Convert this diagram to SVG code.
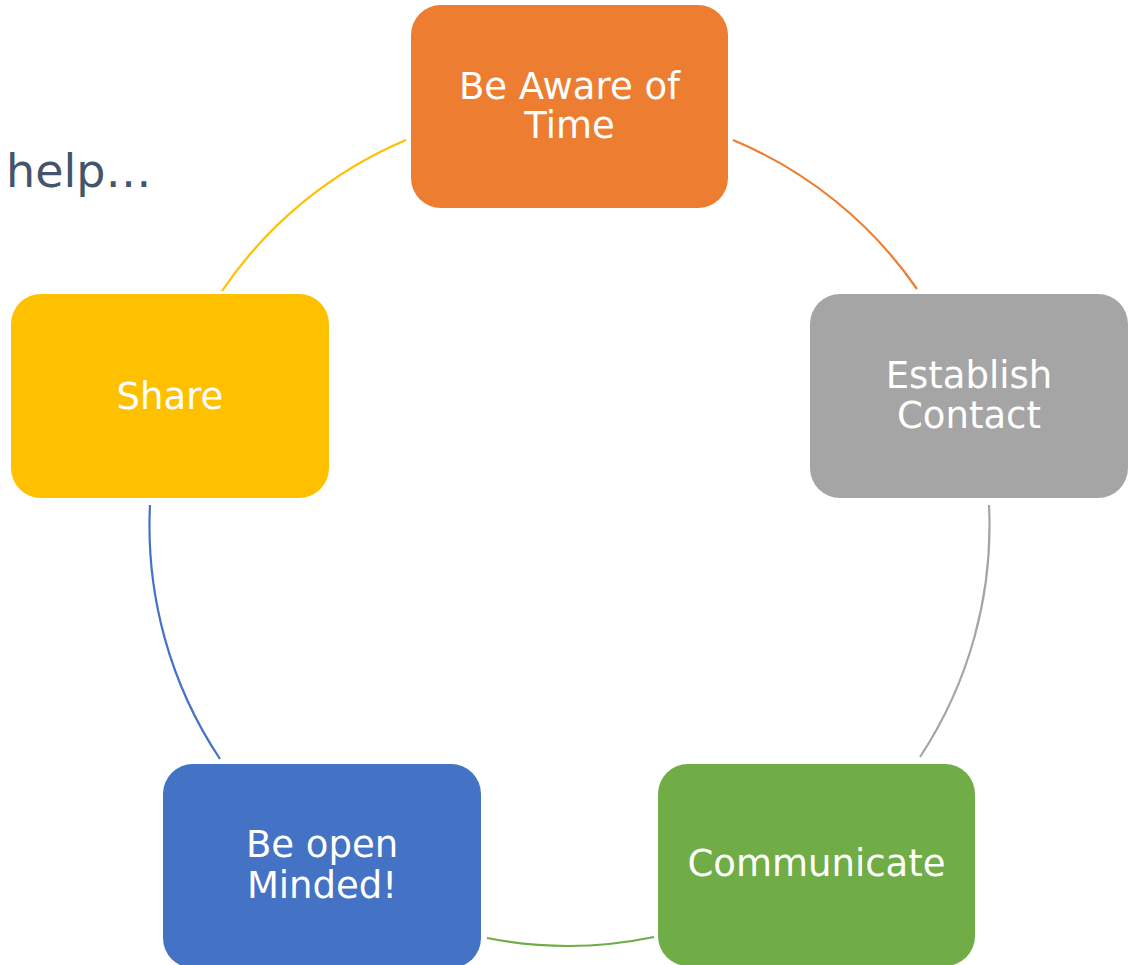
<svg xmlns="http://www.w3.org/2000/svg" width="1134" height="965" viewBox="0 0 1134 965">
<style>
.lbl{font-family:"DejaVu Sans","Liberation Sans",sans-serif;font-size:37px;fill:#FFFFFF;text-anchor:middle}
.arc{fill:none;stroke-width:2.2}
.help{font-family:"DejaVu Sans","Liberation Sans",sans-serif;font-size:46px;fill:#44546A}
</style>
<rect width="1134" height="965" fill="#FFFFFF"/>
<text class="help" x="6" y="187">help…</text>
<g id="connectors">
<path class="arc" stroke="#ED7D31" d="M733,140 A420,420 0 0,1 917,289"/>
<path class="arc" stroke="#A5A5A5" d="M989,505 A420,420 0 0,1 920,757"/>
<path class="arc" stroke="#70AD47" d="M654,937 A420,420 0 0,1 487,938"/>
<path class="arc" stroke="#4472C4" d="M220,759 A420,420 0 0,1 150,505"/>
<path class="arc" stroke="#FFC000" d="M222,291 A420,420 0 0,1 406,140"/>
</g>
<g id="node-aware">
<rect x="411" y="5" width="317" height="203" rx="30" fill="#ED7D31"/>
<text class="lbl" x="569.5" y="99">Be Aware of</text>
<text class="lbl" x="569.5" y="138">Time</text>
</g>
<g id="node-establish">
<rect x="810" y="294" width="318" height="204" rx="30" fill="#A5A5A5"/>
<text class="lbl" x="969" y="388">Establish</text>
<text class="lbl" x="969" y="428">Contact</text>
</g>
<g id="node-communicate">
<rect x="658" y="764" width="317" height="202" rx="30" fill="#70AD47"/>
<text class="lbl" x="816.5" y="876">Communicate</text>
</g>
<g id="node-open">
<rect x="163" y="764" width="318" height="204" rx="30" fill="#4472C4"/>
<text class="lbl" x="322" y="857">Be open</text>
<text class="lbl" x="322" y="898">Minded!</text>
</g>
<g id="node-share">
<rect x="11" y="294" width="318" height="204" rx="30" fill="#FFC000"/>
<text class="lbl" x="170" y="409">Share</text>
</g>
</svg>
